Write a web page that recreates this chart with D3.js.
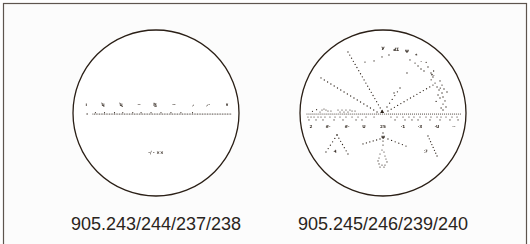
<!DOCTYPE html>
<html><head><meta charset="utf-8">
<script src="https://cdn.jsdelivr.net/npm/d3@7"></script>
<style>html,body{margin:0;padding:0;background:#fff;}svg{display:block;}.lbl{opacity:0.97;will-change:transform;}</style>
</head><body>
<script>
// ---- DATA (reticle units: circle radius = 100) ----
const titles = ["905.243/244/237/238", "905.245/246/239/240"];

// Reticle 1
const r1LabelX = [-84, -64, -42, -20.5, -1, 21.7, 44.6, 62.7, 85.5];
const r1LabelText = ["ı", "ʮ", "ʯ", "═", "ɮ", "··", "⸝", "⸝·", "∨"];
const r1LabelY = -10.8;
const r1LineY = 1.2;
const r1LineStart = -76, r1LineEnd = 91.6;
const r1ExtraDots = [[-83, 1.2]];
const r1Ticks = [-73, -62, -50, -40, -28, -18, -6, 6, 18, 30, 44];
const r1Note = {x: 0, y: 47, text: "·/ · ××"};

// Reticle 2
const r2LineY = 1.2;
const r2LineStart = -91.6, r2LineEnd = 94;
const r2Radials = [
  {from: [-74.7, -42.2], to: [-7.2, -1.2], n: 18},
  {from: [-42.2, -73.5], to: [-1.2, -2.4], n: 20},
  {from: [60.2, -33.7], to: [6, -2.4], n: 15},
  {from: [20.5, -30.1], to: [4.8, -7.2], n: 6},
  {from: [-24.1, 37.3], to: [-3.6, 31.3], n: 6},
  {from: [6, 31.3], to: [27.7, 39.8], n: 6},
  {from: [0, 24.1], to: [0, 38.6], n: 4},
  {from: [-55.4, 26.5], to: [-68.7, 47], n: 6},
  {from: [-55.4, 26.5], to: [-42.2, 49.4], n: 7},
  {from: [54.2, 27.7], to: [65.1, 51.8], n: 8}
];
const r2Scatter = [
  [-1.2,-67.5],[7.2,-69.9],[-10.8,-62.7],[-21.7,-61.4],[28.9,-48.2],[32.5,-63.9],
  [38.6,-60.2],[42.2,-56.6],[45.8,-53],[49.4,-50.6],[54.2,-55.4],[57.8,-48.2],
  [60.2,-43.4],[62.7,-36.1],[65.1,-31.3],[67.5,-27.7],[71.1,-24.1],[72.3,-19.3],
  [68.7,-18.1],[74.7,-14.5],[72.3,-10.8],[75.9,-7.2],[72.3,-3.6],[71.1,-33.7],
  [77.1,-25.3],[66.3,-21.7],[73.5,-28.9],[13.3,-24.1],[61,-50.6],[68.7,-38.6],
  [52,-61],[64,-14],[70,-6],[69,-30],[58,-40]
];
const r2Bulb = [
  [-1.2,44.6],[1.2,47],[-3.6,49.4],[2.4,51.8],[-4.8,54.2],[3.6,55.4],[-6,57.8],
  [4.8,59],[-4.8,61.4],[-1.2,62.7],[2.4,62.7],[-3.6,65.1],[1.2,65.1]
];
const r2Row1X = [-90.4,-86.7,-83.1,-78.3,-74.7,-69.9,-63.9,-57.8,-51.8,-44.6,-37.3,-30.1,
  -20.5,-10.8,9.6,16.9,24.1,31.3,37.3,44.6,51.8,57.8,65.1,69.9,75.9,83.1,89.2];
const r2Row1Y = 4.8;
const r2Row2X = [-89.2,-80.7,-72.3,-59,-48.2,-32.5,-25.3,14.5,26.5,34.9,42.2,56.6,68.7,80.7,90.4];
const r2Row2Y = 8.4;
const r2Zigzag = [
  [-75.9,-1.2],[-73.5,-3.6],[-71.1,-4.8],[-68.7,-3.6],[-66.3,-2.4],[-62.7,-2.4],
  [-54.2,-3.6],[-51.8,-1.2],[-49.4,-3.6],[-47,-1.2],[-44.6,-3.6],[-42.2,-1.2],
  [-39.8,-3.6],[-37.3,-2.4],[-33.7,-2.4],[-85,-2],[-80,-4]
];
const r2LabelX = [-86.7, -66.3, -43.4, -22.9, 0, 24.1, 44.6, 65.1, 85.5];
const r2LabelText = ["2", "#·", "#·", "U", "25", "·1", "·3", "·U", "··"];
const r2LabelY = 15.7;
const r2TopLabels = [
  {x: 0, y: -78, t: "У"}, {x: 15.7, y: -77, t: "ℲΣ"}, {x: 29, y: -73.5, t: "Ψ"},
  {x: 40, y: -68.7, t: "*"}, {x: 46, y: -62, t: "·"}, {x: 60, y: -45, t: "*·"}
];
const r2MiscLabels = [
  {x: -57.8, y: 45.8, t: "₰"}, {x: 51.8, y: 45.8, t: "ℱ"}, {x: 0, y: 30, t: "Ψ"}
];

// ---- DRAW ----
const W = 530, H = 244, R = 83;
const centers = [[156, 113], [383, 113]];
const ink = "#2e241c";

const svg = d3.select("body").append("svg").attr("width", W).attr("height", H);
svg.append("rect").attr("x", 0).attr("y", 0).attr("width", W).attr("height", H).attr("fill", "#fff");
svg.append("rect").attr("x", 3.5).attr("y", 3.5).attr("width", 523).attr("height", 260)
  .attr("fill", "#fcfcfc").attr("stroke", "#5e554e").attr("stroke-width", 1.2);

function makeScales(c) {
  return {
    x: d3.scaleLinear().domain([-100, 100]).range([c[0] - R, c[0] + R]),
    y: d3.scaleLinear().domain([-100, 100]).range([c[1] - R, c[1] + R])
  };
}
function dots(g, s, pts, rad) {
  g.append("g").selectAll("circle").data(pts).join("circle")
    .attr("cx", d => s.x(d[0])).attr("cy", d => s.y(d[1]))
    .attr("r", rad || 0.6).attr("fill", ink);
}
function segPts(seg) {
  const out = [];
  for (let i = 0; i < seg.n; i++) {
    const t = seg.n === 1 ? 0 : i / (seg.n - 1);
    out.push([seg.from[0] + (seg.to[0] - seg.from[0]) * t, seg.from[1] + (seg.to[1] - seg.from[1]) * t]);
  }
  return out;
}
function dottedLine(a, b, y, step) {
  return d3.range(a, b + 0.001, step).map(v => [v, y]);
}
function labels(g, s, arr, size) {
  g.append("g").attr("class", "lbl").selectAll("text").data(arr).join("text")
    .attr("x", d => s.x(d.x)).attr("y", d => s.y(d.y))
    .attr("text-anchor", "middle").attr("dominant-baseline", "central")
    .attr("font-family", "DejaVu Sans, sans-serif").attr("font-size", size || 4.2)
    .attr("font-weight", "bold").attr("fill", ink).text(d => d.t);
}

// reticle frames + titles
centers.forEach((c, i) => {
  svg.append("circle").attr("cx", c[0]).attr("cy", c[1]).attr("r", R)
    .attr("fill", "#fff").attr("stroke", "#2a1f16").attr("stroke-width", 1.3);
  svg.append("text").attr("x", c[0]).attr("y", 229.5).attr("text-anchor", "middle")
    .attr("font-family", "Liberation Sans, Arial, sans-serif").attr("font-size", 18)
    .attr("fill", "#2a2420").text(titles[i]);
});

// Reticle 1
{
  const s = makeScales(centers[0]);
  const g = svg.append("g");
  dots(g, s, dottedLine(r1LineStart, r1LineEnd, r1LineY, 2.0), 0.55);
  dots(g, s, r1ExtraDots, 0.65);
  dots(g, s, r1Ticks.map(v => [v, r1LineY - 1.6]), 0.55);
  labels(g, s, r1LabelX.map((x, i) => ({x: x, y: r1LabelY, t: r1LabelText[i]})), 4.4);
  labels(g, s, [{x: r1Note.x, y: r1Note.y, t: r1Note.text}], 4.4);
}

// Reticle 2
{
  const s = makeScales(centers[1]);
  const g = svg.append("g");
  dots(g, s, dottedLine(r2LineStart, r2LineEnd, r2LineY, 2.4), 0.55);
  r2Radials.forEach(seg => dots(g, s, segPts(seg), 0.65));
  dots(g, s, r2Scatter, 0.65);
  dots(g, s, r2Bulb, 0.6);
  dots(g, s, r2Row1X.map(x => [x, r2Row1Y]), 0.6);
  dots(g, s, r2Row2X.map(x => [x, r2Row2Y]), 0.6);
  dots(g, s, r2Zigzag, 0.6);
  labels(g, s, r2LabelX.map((x, i) => ({x: x, y: r2LabelY, t: r2LabelText[i]})), 4.2);
  labels(g, s, r2TopLabels, 4.6);
  labels(g, s, r2MiscLabels, 4.4);
  g.append("path").attr("d", d3.symbol(d3.symbolTriangle, 7)())
    .attr("transform", `translate(${s.x(-1)},${s.y(-1.5)})`).attr("fill", ink);
}
</script>
</body></html>
